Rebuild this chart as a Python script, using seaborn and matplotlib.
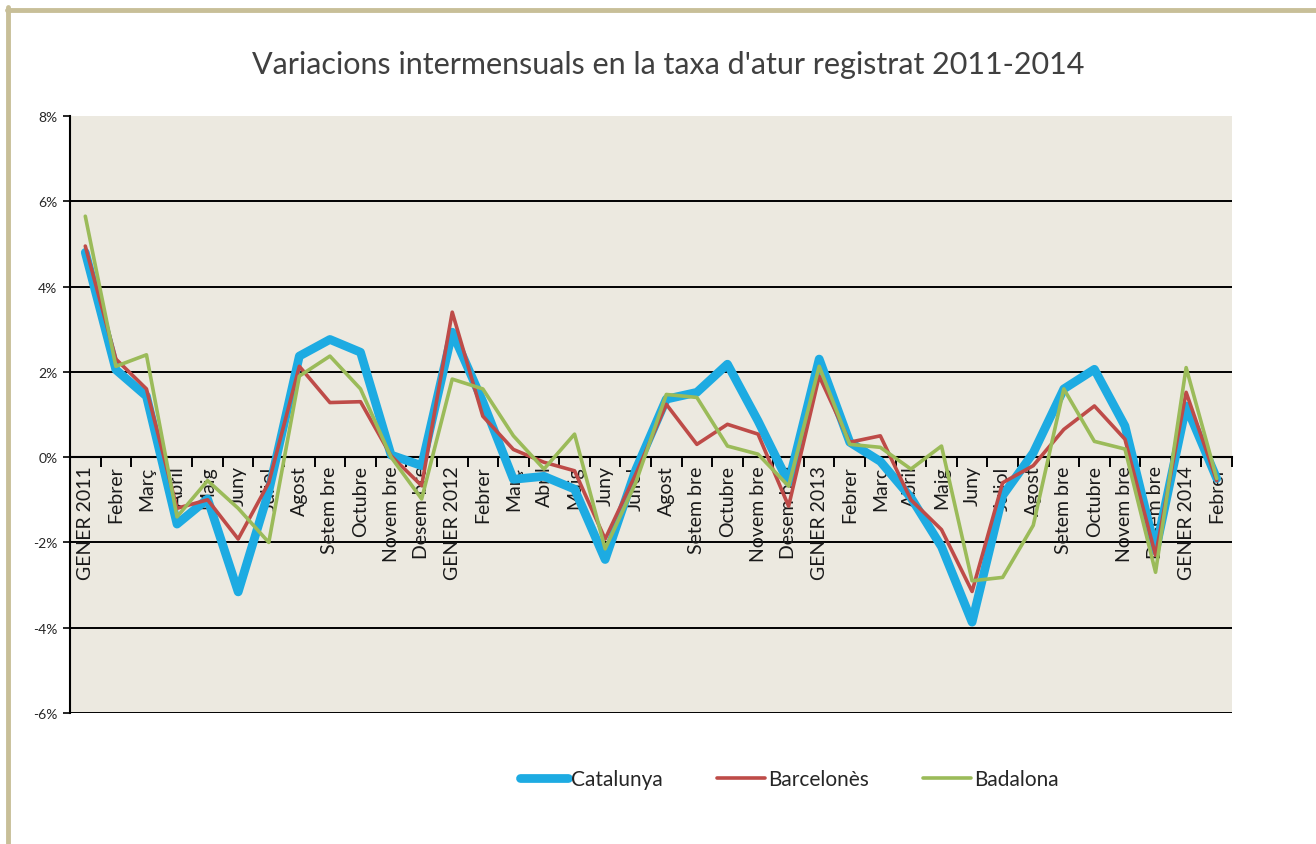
import matplotlib
matplotlib.use("Agg")
import matplotlib.pyplot as plt
from matplotlib.lines import Line2D
from matplotlib.ticker import FixedLocator, FuncFormatter
import seaborn as sns
import pandas as pd
import numpy as np

months = ["GENER 2011", "Febrer", "Març", "Abril", "Maig", "Juny", "Juliol", "Agost",
          "Setembre", "Octubre", "Novembre", "Desembre",
          "GENER 2012", "Febrer", "Març", "Abril", "Maig", "Juny", "Juliol", "Agost",
          "Setembre", "Octubre", "Novembre", "Desembre",
          "GENER 2013", "Febrer", "Març", "Abril", "Maig", "Juny", "Juliol", "Agost",
          "Setembre", "Octubre", "Novembre", "Desembre",
          "GENER 2014", "Febrer"]
month_labels = [m.replace("Setembre", "Setem bre").replace("Novembre", "Novem bre")
                .replace("Desembre", "Desem bre") for m in months]

catalunya = [4.8, 2.05, 1.43, -1.57, -0.98, -3.16, -0.8, 2.37, 2.76, 2.46, 0.05, -0.2,
             2.93, 1.3, -0.52, -0.45, -0.75, -2.4, -0.3, 1.36, 1.52, 2.18, 0.85, -0.6,
             2.3, 0.35, -0.1, -0.95, -2.1, -3.87, -0.9, 0.1, 1.6, 2.06, 0.73, -2.2,
             1.2, -0.5]
barcelones = [4.95, 2.3, 1.6, -1.2, -1.0, -1.92, -0.6, 2.13, 1.28, 1.3, 0.03, -0.67,
              3.4, 0.96, 0.18, -0.12, -0.32, -1.92, -0.4, 1.24, 0.3, 0.77, 0.54, -1.15,
              1.9, 0.35, 0.5, -1.0, -1.7, -3.15, -0.6, -0.2, 0.65, 1.2, 0.42, -2.3,
              1.52, -0.55]
badalona = [5.65, 2.13, 2.4, -1.4, -0.55, -1.2, -2.0, 1.9, 2.37, 1.6, 0.0, -0.98,
            1.83, 1.6, 0.5, -0.28, 0.54, -2.15, -0.6, 1.47, 1.4, 0.26, 0.07, -0.68,
            2.13, 0.3, 0.23, -0.28, 0.26, -2.9, -2.82, -1.6, 1.6, 0.37, 0.19, -2.7,
            2.1, -0.5]
series_names = ["Catalunya", "Barcelonès", "Badalona"]
y_ticks = [8, 6, 4, 2, 0, -2, -4, -6]
title = "Variacions intermensuals en la taxa d'atur registrat 2011-2014"

df = pd.DataFrame({
    "idx": list(range(len(months))) * 3,
    "value": catalunya + barcelones + badalona,
    "serie": [series_names[0]] * len(months) + [series_names[1]] * len(months)
             + [series_names[2]] * len(months),
})

sns.set_theme(style="white")
plt.rcParams["font.family"] = ["Lato", "DejaVu Sans"]

fig = plt.figure(figsize=(13.16, 8.45), dpi=100)
fig.patch.set_facecolor("white")
ax = fig.add_axes([70 / 1316, 1 - 714 / 845, (1232 - 70) / 1316, (714 - 117) / 845])
ax.set_facecolor("#ECE9E0")

palette = {"Catalunya": "#1DABE2", "Barcelonès": "#BE4B48", "Badalona": "#9BBB59"}
sizes = {"Catalunya": 6.3, "Barcelonès": 2.6, "Badalona": 2.6}
sns.lineplot(data=df, x="idx", y="value", hue="serie", size="serie", sizes=sizes,
             palette=palette, hue_order=series_names, size_order=series_names,
             ax=ax, legend=False, sort=False)
for ln in ax.get_lines():
    ln.set_solid_joinstyle("round")
    ln.set_solid_capstyle("round")

ax.set_xlim(-0.5, len(months) - 0.5)
ax.set_ylim(-6, 8)
ax.set_xlabel("")
ax.set_ylabel("")

# y axis
ax.yaxis.set_major_locator(FixedLocator(y_ticks))
ax.yaxis.set_major_formatter(FuncFormatter(lambda v, p: f"{int(v)}%"))
ax.tick_params(axis="y", which="major", direction="out", length=5, width=1.2,
               color="black", labelsize=10, pad=4, left=True)
for v in y_ticks:
    if v not in (8, 0):
        ax.axhline(v, color="black", lw=1.4, zorder=0.5)

# x axis at zero
ax.spines["bottom"].set_position(("data", 0))
ax.spines["bottom"].set_color("black")
ax.spines["bottom"].set_linewidth(1.5)
ax.spines["bottom"].set_zorder(0.6)
for s in ["top", "right"]:
    ax.spines[s].set_visible(False)
ax.spines["left"].set_color("black")
ax.spines["left"].set_linewidth(1.5)

ax.set_xticks(range(len(months)))
ax.set_xticklabels(month_labels, rotation=90, fontsize=14, color="#1a1a1a",
                   va="top", ha="center")
ax.set_xticks(np.arange(-0.5, len(months), 1.0), minor=True)
ax.tick_params(axis="x", which="major", length=0, pad=6, bottom=True)
ax.tick_params(axis="x", which="minor", direction="out", length=7, width=1.4,
               color="black", bottom=True)

fig.text(0.508, 0.923, title, ha="center", va="center", fontsize=22, color="#404040")

handles = [Line2D([0], [0], color=palette[n], lw=sizes[n], solid_capstyle="round")
           for n in series_names]
fig.legend(handles, series_names, loc="center", bbox_to_anchor=(0.6, 0.077), ncol=3,
           frameon=False, fontsize=15, handlelength=2.3, handletextpad=0.15,
           columnspacing=2.6)

# frame decoration
fig.add_artist(Line2D([0.0062, 0.0062], [0, 0.99], transform=fig.transFigure,
                      color="#C8BF98", lw=3.5))
fig.add_artist(Line2D([0.005, 1.0], [0.987, 0.987], transform=fig.transFigure,
                      color="#C8BF98", lw=3.5))

fig.savefig("out.png", dpi=100)
